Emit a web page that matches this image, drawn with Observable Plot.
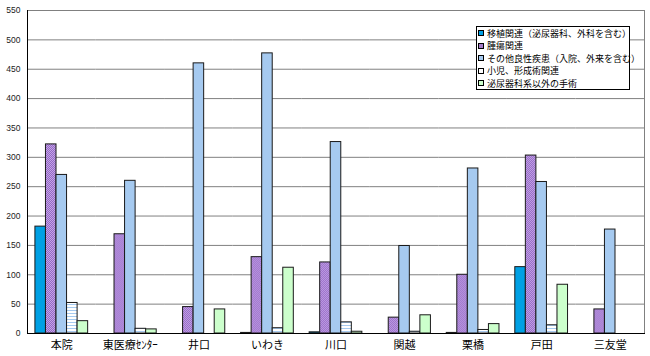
<!DOCTYPE html>
<html><head><meta charset="utf-8">
<script src="https://cdn.jsdelivr.net/npm/d3@7"></script>
<script src="https://cdn.jsdelivr.net/npm/@observablehq/plot@0.6"></script>
<style>
body{margin:0;background:#fff;}
#wrap{position:relative;width:650px;height:356px;}
#legend{position:absolute;left:476px;top:26px;width:154px;height:64px;border:1px solid #000;background:#fff;box-sizing:border-box;padding:0 0 0 1px;font:9px "Noto Sans CJK JP",sans-serif;color:#000;}
.item{height:12.5px;display:flex;align-items:center;white-space:nowrap;}
.sw{width:6px;height:6px;border:1px solid #000;margin-right:3px;box-sizing:border-box;flex:none;}
</style></head><body><div id="wrap"></div>
<script>
const sites = ["本院","東医療ｾﾝﾀｰ","井口","いわき","川口","関越","栗橋","戸田","三友堂"];
const seriesNames = ["移植関連（泌尿器科、外科を含む）","腫瘍関連","その他良性疾患（入院、外来を含む）","小児、形成術関連","泌尿器科系以外の手術"];
const transplant = [182, 0, 0, 1, 2, 0, 1, 113, 0];
const tumor      = [322, 169, 45, 130, 121, 27, 100, 303, 41];
const benign     = [270, 260, 460, 477, 326, 149, 281, 258, 177];
const pediatric  = [52, 8, 0, 9, 19, 3, 6, 14, 0];
const nonUro     = [21, 7, 41, 112, 3, 31, 16, 83, 0];
const yTicks = [0,50,100,150,200,250,300,350,400,450,500,550];
const fills = ["#00a0e4","url(#pTumor)","#a6caf0","url(#pPed)","#ccffcc"];
const swatchBg = ["#00a0e4","#a57cc8","#a6caf0","#ffffff","#ccffcc"];

const seriesValues = [transplant, tumor, benign, pediatric, nonUro];
const data = sites.flatMap((s,i)=>seriesNames.map((n,j)=>({site:s, series:n, value:seriesValues[j][i]}))).filter(d=>d.value>0);

const plot = Plot.plot({
  width:650, height:356,
  marginLeft:27, marginRight:6, marginTop:10, marginBottom:23,
  style:{fontFamily:"'Noto Sans CJK JP', sans-serif", fontSize:"11px", color:"#000", background:"#fff", overflow:"visible"},
  fx:{domain:sites, padding:0, round:false, axis:"bottom", label:null, tickSize:0, tickPadding:8},
  x:{domain:seriesNames, axis:null, round:false, paddingInner:0, paddingOuter:0.75},
  y:{domain:[0,550], label:null, axis:null},
  color:{domain:seriesNames, range:fills},
  marks:[
    Plot.ruleY(yTicks.filter(d=>d>0), {stroke:"#808080", strokeWidth:1}),
    Plot.axisY({ticks:yTicks, tickSize:0, tickPadding:7, label:null, fontSize:8.5, fill:"#222", fontFamily:"'Liberation Sans', Arial, sans-serif"}),
    Plot.barY(data, {fx:"site", x:"series", y:"value", fill:"series", stroke:"#1a1a1a", strokeWidth:1}),
    Plot.ruleY([0], {stroke:"#000"}),
    Plot.frame({facet:"super", stroke:"#808080"}),
    Plot.frame({facet:"super", anchor:"left", stroke:"#000"}),
    Plot.frame({facet:"super", anchor:"bottom", stroke:"#000"})
  ]
});

const ns = "http://www.w3.org/2000/svg";
const defs = document.createElementNS(ns, "defs");
defs.innerHTML = `
<pattern id="pTumor" patternUnits="userSpaceOnUse" width="2" height="2">
  <rect width="2" height="2" fill="#9468c4"/>
  <rect x="0" y="0" width="1" height="1" fill="#c4a4e8"/>
  <rect x="1" y="1" width="1" height="1" fill="#c4a4e8"/>
</pattern>
<pattern id="pPed" patternUnits="userSpaceOnUse" width="4" height="3">
  <rect width="4" height="3" fill="#ffffff"/>
  <rect y="1" width="4" height="1" fill="#a6caf0"/>
</pattern>`;
plot.insertBefore(defs, plot.firstChild);

const wrap = document.getElementById("wrap");
wrap.appendChild(plot);
const legend = document.createElement("div");
legend.id = "legend";
seriesNames.forEach((n,j)=>{
  const it = document.createElement("div"); it.className = "item";
  const sw = document.createElement("span"); sw.className = "sw"; sw.style.background = swatchBg[j];
  const t = document.createElement("span"); t.textContent = n;
  it.appendChild(sw); it.appendChild(t); legend.appendChild(it);
});
wrap.appendChild(legend);
</script></body></html>
